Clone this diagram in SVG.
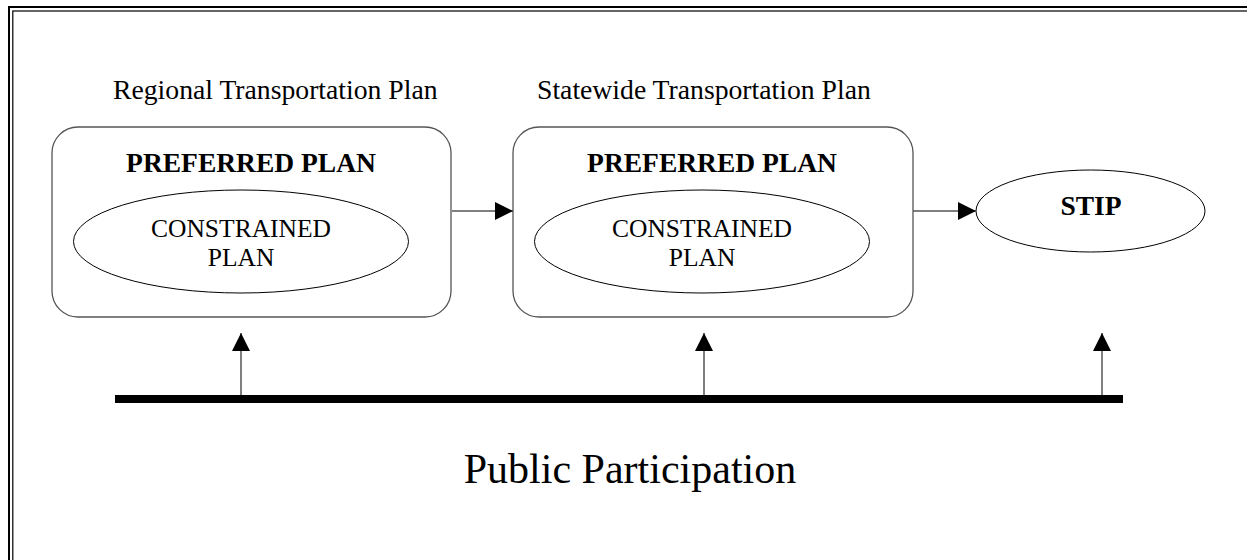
<svg xmlns="http://www.w3.org/2000/svg" width="1247" height="560" viewBox="0 0 1247 560">
<style>
.t{font-family:"Liberation Serif","Times New Roman",serif;fill:#000}
.title{font-size:27.7px}
.head{font-size:27.5px;font-weight:bold;text-anchor:middle}
.inner{font-size:25.5px;text-anchor:middle}
.box{fill:#fff;stroke:#555;stroke-width:1.3}
.ell{fill:#fff;stroke:#000;stroke-width:1}
.conn{stroke:#555;stroke-width:1.5;fill:none}
</style>
<defs>
<marker id="ah" markerWidth="18" markerHeight="18" viewBox="0 0 18 18" refX="18" refY="9" orient="auto" markerUnits="userSpaceOnUse">
<path d="M0,0 L18,9 L0,18 Z" fill="#000"/>
</marker>
</defs>
<rect width="1247" height="560" fill="#fff"/>
<g id="frame">
<rect x="9" y="7" width="1260" height="580" fill="none" stroke="#000" stroke-width="2"/>
<rect x="12.8" y="11" width="1260" height="580" fill="none" stroke="#000" stroke-width="1.2"/>
</g>
<g id="label-regional"><text class="t title" x="113" y="99">Regional Transportation Plan</text></g>
<g id="label-statewide"><text class="t title" x="537" y="99">Statewide Transportation Plan</text></g>
<g id="regional-plan">
<rect class="box" x="52" y="127" width="399" height="190" rx="26" ry="26"/>
<text class="t head" x="251" y="172">PREFERRED PLAN</text>
<ellipse class="ell" cx="241" cy="241.5" rx="167.5" ry="51.5"/>
<text class="t inner" x="241" y="237">CONSTRAINED</text>
<text class="t inner" x="241" y="266">PLAN</text>
</g>
<g id="statewide-plan">
<rect class="box" x="513" y="127" width="400" height="190" rx="26" ry="26"/>
<text class="t head" x="712" y="172">PREFERRED PLAN</text>
<ellipse class="ell" cx="702" cy="241.5" rx="167.5" ry="51.5"/>
<text class="t inner" x="702" y="237">CONSTRAINED</text>
<text class="t inner" x="702" y="266">PLAN</text>
</g>
<g id="stip">
<ellipse class="ell" cx="1090.5" cy="211" rx="114.5" ry="41"/>
<text class="t head" x="1091" y="215">STIP</text>
</g>
<g id="public-participation">
<rect x="115" y="395" width="1008" height="8" fill="#000"/>
<text class="t" x="630" y="483" font-size="42" text-anchor="middle">Public Participation</text>
</g>
<g id="connectors">
<line class="conn" x1="452" y1="211" x2="513" y2="211" marker-end="url(#ah)"/>
<line class="conn" x1="913" y1="211" x2="976" y2="211" marker-end="url(#ah)"/>
<line class="conn" x1="241" y1="395" x2="241" y2="333" marker-end="url(#ah)"/>
<line class="conn" x1="704" y1="395" x2="704" y2="333" marker-end="url(#ah)"/>
<line class="conn" x1="1102" y1="395" x2="1102" y2="333" marker-end="url(#ah)"/>
</g>
</svg>
